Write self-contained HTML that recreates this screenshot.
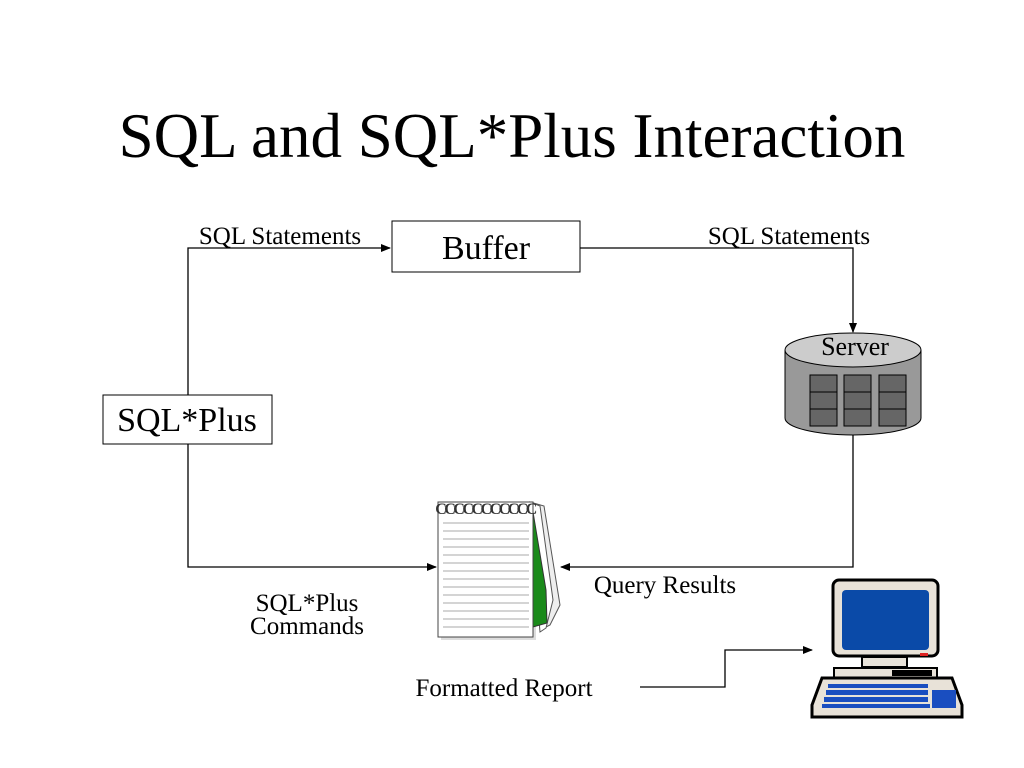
<!DOCTYPE html>
<html><head><style>body{margin:0;background:#fff}svg{display:block}text{font-family:"Liberation Serif",serif;fill:#000}</style></head>
<body>
<svg width="1024" height="768" viewBox="0 0 1024 768">
<defs><marker id="a" markerWidth="10" markerHeight="8" refX="9" refY="4" orient="auto" markerUnits="userSpaceOnUse"><path d="M0,0L10,4L0,8z" fill="#000"/></marker></defs>
<text x="512" y="157" font-size="63" text-anchor="middle">SQL and SQL*Plus Interaction</text>
<rect x="392" y="221" width="188" height="51" fill="#fff" stroke="#000"/>
<text x="486" y="259" font-size="34" text-anchor="middle">Buffer</text>
<rect x="103" y="395" width="169" height="49" fill="#fff" stroke="#000"/>
<text x="187" y="431" font-size="34" text-anchor="middle">SQL*Plus</text>
<text x="280" y="244" font-size="25" text-anchor="middle">SQL Statements</text>
<text x="789" y="244" font-size="25" text-anchor="middle">SQL Statements</text>
<text x="665" y="593" font-size="25" text-anchor="middle">Query Results</text>
<text x="307" y="611" font-size="25" text-anchor="middle">SQL*Plus</text>
<text x="307" y="634" font-size="25" text-anchor="middle">Commands</text>
<text x="504" y="696" font-size="25" text-anchor="middle">Formatted Report</text>
<g fill="none" stroke="#000" stroke-width="1.3">
<path d="M188,395V248H390" marker-end="url(#a)"/>
<path d="M580,248H853V332" marker-end="url(#a)"/>
<path d="M188,444V567H436" marker-end="url(#a)"/>
<path d="M853,434V567H561" marker-end="url(#a)"/>
<path d="M640,687H725V650H812" marker-end="url(#a)"/>
</g>
<!-- server -->
<path d="M785,350V418A68,17 0 0 0 921,418V350" fill="#999" stroke="#000"/>
<ellipse cx="853" cy="350" rx="68" ry="17" fill="#ccc" stroke="#000"/>
<text x="855" y="355" font-size="26" text-anchor="middle">Server</text>
<g fill="#666" stroke="#000">
<rect x="810" y="375" width="27" height="17"/><rect x="810" y="392" width="27" height="17"/><rect x="810" y="409" width="27" height="17"/>
<rect x="844" y="375" width="27" height="17"/><rect x="844" y="392" width="27" height="17"/><rect x="844" y="409" width="27" height="17"/>
<rect x="879" y="375" width="27" height="17"/><rect x="879" y="392" width="27" height="17"/><rect x="879" y="409" width="27" height="17"/>
</g>
<!-- notepad -->
<rect x="441" y="505" width="95" height="135" fill="#ddd"/>
<path d="M530,502L544,506L560,605L550,625L540,630Z" fill="#eee" stroke="#555"/>
<path d="M530,502L540,506L553,600L546,628L540,632Z" fill="#fff" stroke="#555"/>
<path d="M532,506L546,590L547,623L533,627Z" fill="#1a8a1a" stroke="#333"/>
<rect x="438" y="502" width="95" height="135" fill="#fff" stroke="#444"/>
<g stroke="#aaa">
<line x1="443" y1="523" x2="529" y2="523"/><line x1="443" y1="531" x2="529" y2="531"/><line x1="443" y1="539" x2="529" y2="539"/><line x1="443" y1="547" x2="529" y2="547"/><line x1="443" y1="555" x2="529" y2="555"/><line x1="443" y1="563" x2="529" y2="563"/><line x1="443" y1="571" x2="529" y2="571"/><line x1="443" y1="579" x2="529" y2="579"/><line x1="443" y1="587" x2="529" y2="587"/><line x1="443" y1="595" x2="529" y2="595"/><line x1="443" y1="603" x2="529" y2="603"/><line x1="443" y1="611" x2="529" y2="611"/><line x1="443" y1="619" x2="529" y2="619"/><line x1="443" y1="627" x2="529" y2="627"/>
</g>
<text x="485" y="514" font-size="16" font-weight="bold" text-anchor="middle" style="fill:#333;letter-spacing:-2.5px">CCCCCCCCCCC</text>
<!-- computer -->
<rect x="833" y="580" width="105" height="76" rx="6" fill="#e8e2d8" stroke="#000" stroke-width="3"/>
<rect x="842" y="590" width="87" height="60" rx="4" fill="#0a4aa8"/>
<rect x="920" y="653" width="8" height="3" fill="#d22"/>
<rect x="862" y="657" width="45" height="10" fill="#e8e2d8" stroke="#000" stroke-width="2"/>
<rect x="834" y="668" width="103" height="10" fill="#e8e2d8" stroke="#000" stroke-width="2"/>
<rect x="892" y="670" width="40" height="6" fill="#000"/>
<path d="M822,678H952L962,705V717H812V705Z" fill="#e8e2d8" stroke="#000" stroke-width="3"/>
<g fill="#1a4ec0"><rect x="828" y="684" width="100" height="4"/><rect x="826" y="690" width="102" height="5"/><rect x="824" y="697" width="104" height="5"/><rect x="822" y="704" width="108" height="4"/><rect x="932" y="690" width="24" height="18"/></g>
</svg>
</body></html>
